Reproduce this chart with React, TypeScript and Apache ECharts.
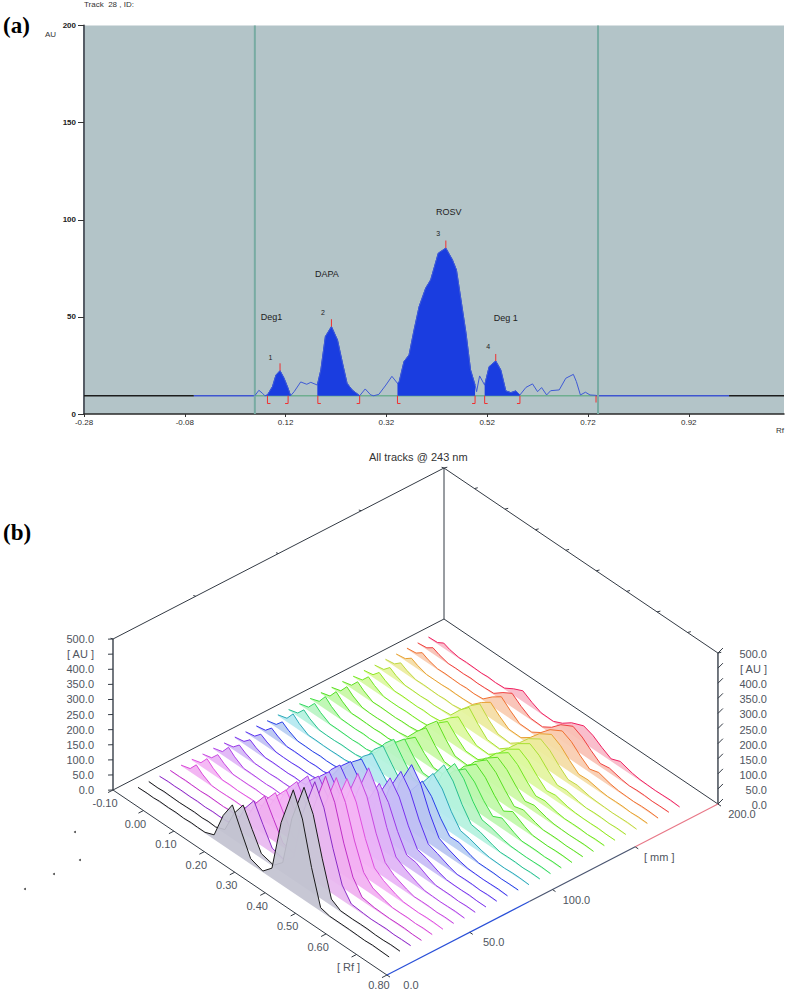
import React, { useEffect, useRef } from "react";
import * as echarts from "echarts";

/* ---------- panel (a): densitogram of track 28 ---------- */
const rfTicksA = [-0.28, -0.08, 0.12, 0.32, 0.52, 0.72, 0.92];
const BASE_AU = 9.4;
const profile: number[][] = [
  [0.059, 9.4], [0.067, 12.2], [0.074, 10.7], [0.079, 9.4], [0.084, 9.8], [0.094, 14.1], [0.101, 20.1],
  [0.109, 22.3], [0.117, 18.4], [0.125, 13.2], [0.13, 9.4], [0.137, 11.5], [0.15, 16.5], [0.162, 15.3],
  [0.17, 16.3], [0.183, 14.9], [0.19, 22.7], [0.199, 39.9], [0.211, 45.0], [0.223, 38.1], [0.233, 26.1],
  [0.242, 15.8], [0.252, 12.4], [0.267, 9.4], [0.278, 12.9], [0.289, 9.8], [0.295, 9.4], [0.305, 10.1],
  [0.319, 14.9], [0.331, 19.4], [0.342, 15.8], [0.345, 16.2], [0.355, 27.0], [0.365, 30.4], [0.375, 43.3],
  [0.385, 55.3], [0.398, 64.8], [0.408, 69.1], [0.423, 82.8], [0.438, 85.4], [0.451, 79.4], [0.459, 74.2],
  [0.468, 58.8], [0.478, 41.6], [0.487, 22.7], [0.496, 14.9], [0.499, 11.5], [0.505, 19.6], [0.515, 14.9],
  [0.524, 24.4], [0.537, 27.3], [0.547, 22.7], [0.557, 11.9], [0.567, 11.0], [0.577, 11.9], [0.585, 9.8],
  [0.597, 13.7], [0.61, 15.5], [0.62, 11.5], [0.628, 13.6], [0.638, 9.8], [0.646, 12.0], [0.663, 12.4],
  [0.676, 18.4], [0.691, 20.4], [0.697, 16.7], [0.705, 9.8], [0.715, 11.2], [0.724, 9.8], [0.736, 9.6],
];
const peakWindows = [[0.079, 0.13], [0.183, 0.267], [0.342, 0.496], [0.515, 0.585]];
const peakMarks = [[0.109, 22.3, 26.1], [0.211, 45.0, 48.8], [0.438, 85.4, 89.3], [0.537, 27.3, 30.9]];
const brackets = [[0.084, 1], [0.125, -1], [0.184, 1], [0.267, -1], [0.342, 1], [0.496, -1], [0.515, 1], [0.585, -1], [0.736, 0]];
const trackLimits = [0.059, 0.74];
const annotationsA: (string | number)[][] = [
  ["ROSV", 0.444, 104.2, 9], ["DAPA", 0.202, 72, 9], ["Deg1", 0.092, 49.8, 9], ["Deg 1", 0.557, 49.3, 9],
  ["1", 0.09, 29, 7], ["2", 0.194, 52, 7], ["3", 0.423, 93, 7], ["4", 0.522, 34.5, 7],
];
const baselineSegments: (number | string)[][] = [
  [-0.28, -0.062, "#1c1c1c"], [-0.062, 0.059, "#3f55d0"], [0.059, 0.736, "#6fae90"],
  [0.736, 1.0, "#3f55d0"], [1.0, 1.109, "#1c1c1c"],
];

/* ---------- panel (b): all tracks at 243 nm ---------- */
const rfGrid = [-0.07, -0.04, -0.02, 0.0, 0.03, 0.055, 0.08, 0.105, 0.125, 0.15, 0.18, 0.21, 0.24, 0.27, 0.3, 0.34, 0.37, 0.4, 0.44, 0.47, 0.5, 0.53, 0.56, 0.6, 0.625, 0.65, 0.675, 0.7, 0.725, 0.755];
const trackValues: number[][] = [
  [2, 3, 2, 4, 3, 4, 2, 4, 3, 3, 15, 100, 155, 85, 18, 4, 34, 205, 341, 265, 125, 12, 4, 4, 4, 3, 2, 4, 3, 2],
  [3, 2, 4, 3, 2, 3, 4, 2, 4, 2, 14, 88, 136, 75, 16, 5, 34, 200, 331, 262, 135, 22, 4, 3, 4, 4, 2, 2, 4, 3],
  [2, 4, 3, 4, 3, 4, 2, 4, 3, 4, 13, 86, 132, 73, 16, 4, 33, 199, 331, 265, 150, 50, 8, 4, 2, 3, 4, 2, 3, 3],
  [3, 3, 4, 3, 2, 4, 3, 2, 4, 2, 13, 84, 129, 71, 15, 5, 33, 199, 331, 265, 150, 58, 12, 5, 4, 3, 4, 4, 2, 2],
  [2, 11, 37, 20, 3, 2, 3, 4, 3, 4, 12, 79, 122, 67, 15, 4, 31, 185, 308, 246, 139, 55, 24, 10, 3, 3, 4, 2, 4, 3],
  [3, 12, 39, 21, 3, 4, 2, 3, 4, 3, 11, 73, 113, 62, 14, 5, 29, 172, 286, 229, 129, 52, 30, 12, 4, 3, 2, 4, 4, 2],
  [2, 10, 34, 19, 3, 3, 3, 4, 2, 4, 12, 79, 122, 67, 15, 4, 29, 171, 285, 228, 128, 51, 28, 11, 3, 4, 4, 2, 4, 3],
  [3, 12, 40, 22, 4, 4, 3, 2, 4, 2, 12, 79, 122, 67, 15, 5, 29, 171, 285, 228, 128, 51, 32, 13, 4, 3, 2, 3, 4, 2],
  [2, 9, 29, 16, 3, 3, 2, 4, 3, 3, 10, 67, 103, 57, 12, 4, 22, 129, 215, 172, 97, 39, 35, 14, 4, 4, 4, 2, 4, 3],
  [3, 9, 28, 15, 3, 4, 3, 2, 4, 2, 10, 64, 99, 54, 12, 5, 22, 129, 215, 172, 97, 39, 30, 12, 4, 3, 3, 4, 2, 2],
  [2, 8, 28, 16, 3, 2, 2, 4, 3, 4, 10, 67, 103, 57, 12, 4, 22, 131, 218, 174, 98, 39, 28, 11, 3, 4, 4, 2, 4, 3],
  [3, 9, 30, 17, 3, 4, 3, 2, 4, 2, 10, 62, 96, 53, 11, 5, 22, 133, 222, 178, 100, 40, 25, 10, 4, 3, 2, 3, 4, 2],
  [2, 10, 32, 18, 3, 3, 2, 4, 2, 3, 9, 56, 86, 47, 10, 4, 15, 89, 149, 119, 67, 27, 28, 11, 4, 4, 4, 2, 3, 3],
  [3, 12, 40, 22, 4, 4, 3, 3, 4, 4, 9, 56, 86, 47, 10, 5, 16, 94, 156, 125, 70, 28, 22, 9, 4, 3, 2, 4, 4, 2],
  [2, 11, 35, 19, 3, 2, 2, 4, 3, 3, 9, 60, 93, 51, 11, 4, 17, 100, 166, 133, 75, 30, 25, 10, 3, 4, 4, 2, 4, 3],
  [3, 12, 38, 21, 4, 4, 3, 2, 4, 2, 10, 62, 96, 53, 12, 5, 15, 91, 152, 122, 68, 27, 22, 9, 4, 3, 2, 3, 4, 2],
  [2, 13, 42, 23, 4, 3, 2, 4, 2, 4, 8, 47, 79, 40, 8, 6, 35, 81, 116, 93, 52, 20, 35, 14, 3, 4, 4, 2, 4, 3],
  [3, 12, 40, 22, 3, 4, 3, 2, 4, 2, 7, 40, 66, 33, 7, 6, 34, 79, 113, 90, 51, 19, 38, 15, 4, 3, 2, 4, 4, 2],
  [2, 11, 38, 21, 4, 2, 2, 4, 3, 3, 8, 47, 79, 40, 8, 5, 33, 76, 109, 87, 49, 16, 25, 10, 3, 4, 4, 2, 3, 3],
  [3, 11, 36, 20, 3, 4, 3, 2, 4, 4, 8, 50, 83, 42, 8, 5, 30, 69, 99, 79, 45, 15, 22, 9, 4, 3, 2, 3, 4, 2],
  [2, 10, 34, 19, 3, 2, 2, 4, 3, 3, 6, 38, 63, 32, 6, 5, 29, 67, 96, 77, 43, 14, 18, 7, 3, 4, 4, 2, 4, 3],
  [3, 9, 30, 17, 3, 4, 3, 2, 4, 2, 6, 36, 60, 30, 6, 4, 27, 62, 89, 71, 40, 13, 18, 7, 4, 3, 3, 4, 2, 2],
  [2, 8, 28, 15, 3, 3, 2, 4, 2, 4, 7, 44, 73, 37, 7, 4, 27, 62, 89, 71, 40, 13, 16, 6, 2, 4, 4, 2, 4, 3],
  [3, 8, 25, 14, 3, 4, 3, 2, 4, 2, 7, 40, 66, 33, 7, 4, 26, 60, 86, 69, 39, 13, 15, 6, 4, 3, 2, 3, 4, 2],
  [2, 7, 22, 12, 2, 2, 2, 4, 3, 3, 5, 32, 53, 27, 5, 4, 25, 58, 83, 66, 37, 12, 14, 6, 3, 4, 4, 2, 4, 3],
  [3, 7, 22, 12, 3, 4, 3, 2, 4, 2, 5, 32, 53, 27, 5, 4, 23, 53, 76, 61, 34, 11, 20, 8, 4, 3, 2, 4, 4, 2],
  [2, 6, 20, 11, 2, 3, 2, 4, 2, 3, 5, 28, 46, 23, 5, 3, 22, 51, 73, 58, 33, 11, 16, 6, 2, 4, 4, 2, 3, 3],
  [3, 5, 17, 9, 3, 4, 3, 2, 4, 2, 4, 22, 36, 18, 4, 3, 17, 39, 56, 45, 25, 8, 20, 8, 4, 3, 2, 3, 4, 2],
];
const trackColors = [
  "#1a1a1a", "#1a1a1a", "#8a2bc8", "#c030c8", "#d848d8", "#e050e0", "#c848e0", "#b040e8", "#9a38e8", "#7a30ee",
  "#5a30f0", "#3c30f0", "#2840e8", "#2aa8b8", "#28c090", "#30d860", "#40e040", "#50e020", "#58e020", "#60e020",
  "#70e820", "#90e820", "#a8e030", "#c0d840", "#e8a030", "#f07030", "#f04040", "#f02060",
];
const trackFills = [
  "#c2c2d0", "#c8c6d6", "#e8b8f0", "#f0b0f0", "#f2b0f2", "#f4b4f4", "#eab4f6", "#e0b4f6", "#d4b8f6", "#c8bcf6",
  "#c0c0f4", "#b8c4f2", "#b8cef2", "#b4e8f0", "#b4f2de", "#b8f4c4", "#bcf6b0", "#c0f8a8", "#c8f8a4", "#ccf8a4",
  "#d4f8a0", "#dcf8a0", "#e4f4a0", "#ecec9c", "#f4dca4", "#f8ccb0", "#f8c0b4", "#f8b8c8",
];
const trackStartMm = 9.6;
const trackStepMm = 6.5;
const auTicks = [0, 50, 100, 150, 200, 250, 300, 350, 400, 450, 500];
const rfTicksB = [-0.1, 0.0, 0.1, 0.2, 0.3, 0.4, 0.5, 0.6, 0.7, 0.8];
const mmTicks = [0, 50, 100, 150, 200];
const auLabel = (v: number) => (v === 450 ? "[ AU ]" : v.toFixed(1));
const rfLabel = (v: number) => (v === 0.7 ? "[ Rf ]" : v.toFixed(2));
const mmLabel = (v: number) => (v === 150 ? "[ mm ]" : v.toFixed(1));
const frontEdgeStops = [0, 86, 150, 200];
const frontEdgeColors = ["#2a50d8", "#4a5570", "#e87888"];
const specks = [[75, 832], [80, 860], [54, 874], [25, 889]];

const RF0 = -0.1;
const RF1 = 0.8;
const MM1 = 200;
const AU1 = 500;
function project(rf: number, mm: number, au: number): number[] {
  return [113 + (rf - RF0) * 304.4 + mm * 1.655, 790 + (rf - RF0) * 205.6 - mm * 0.855 - au * 0.302];
}

type Edge = { a: number[]; b: number[]; color: string; w: number };
const edges: Edge[] = [];
const addEdge = (a: number[], b: number[], color = "#333a44", w = 1) => edges.push({ a, b, color, w });
addEdge([RF0, 0, 0], [RF0, 0, AU1], "#444b55", 1.5);
addEdge([RF1, MM1, 0], [RF1, MM1, AU1], "#444b55", 1.5);
addEdge([RF0, MM1, 0], [RF0, MM1, AU1]);
addEdge([RF0, 0, AU1], [RF0, MM1, AU1]);
addEdge([RF0, MM1, AU1], [RF1, MM1, AU1]);
addEdge([RF0, 0, 0], [RF0, MM1, 0]);
addEdge([RF0, MM1, 0], [RF1, MM1, 0]);
addEdge([RF0, 0, 0], [RF1, 0, 0]);
frontEdgeColors.forEach((c, i) => addEdge([RF1, frontEdgeStops[i], 0], [RF1, frontEdgeStops[i + 1], 0], c, 1.2));
auTicks.forEach((v) => {
  addEdge([RF0, 0, v], [RF0, -3, v + 8]);
  addEdge([RF1, MM1, v], [RF1, MM1 + 3, v + 8]);
});
rfTicksB.forEach((v) => {
  addEdge([v, 0, 0], [v, -3, 0]);
  addEdge([v, MM1, AU1], [v, MM1 + 2, AU1 - 3]);
});
mmTicks.forEach((v) => {
  addEdge([RF1, v, 0], [RF1 + 0.01, v, 0]);
  addEdge([RF0, v, AU1], [RF0 - 0.008, v, AU1 - 3]);
});

type Lab = { t: string; p: number[]; dx: number; dy: number; align: string };
const labelsB: Lab[] = [
  ...auTicks.map((v) => ({ t: auLabel(v), p: [RF0, 0, v], dx: -19, dy: 0, align: "right" })),
  ...auTicks.map((v) => ({ t: auLabel(v), p: [RF1, MM1, v], dx: 49, dy: 1, align: "right" })),
  ...rfTicksB.map((v) => ({ t: rfLabel(v), p: [v, 0, 0], dx: -8, dy: v === RF1 ? 10 : 13, align: "center" })),
  ...mmTicks.map((v) => ({ t: mmLabel(v), p: [RF1, v, 0], dx: 24, dy: 10, align: "center" })),
];

const LATIN = "'Liberation Sans', Arial, sans-serif";

export default function App() {
  const ref = useRef<HTMLDivElement>(null);
  useEffect(() => {
    const chart = echarts.init(ref.current!, undefined, { renderer: "svg" });
    const X = { xAxisIndex: 0, yAxisIndex: 0 };
    const S = { xAxisIndex: 1, yAxisIndex: 1 };
    const order = trackValues.map((_, i) => [trackValues.length - 1 - i, 0]);
    chart.setOption({
      animation: false,
      backgroundColor: "#ffffff",
      grid: [
        { left: 84, top: 25.5, width: 700, height: 388.5, show: true, backgroundColor: "#b3c4c8", borderWidth: 0 },
        { left: 0, top: 0, width: 788, height: 992, show: false },
      ],
      xAxis: [
        {
          type: "value", gridIndex: 0, min: -0.28, max: 1.109, splitLine: { show: false },
          axisLine: { show: true, onZero: false, lineStyle: { color: "#2a2a2a", width: 1.5 } },
          axisTick: { show: true, customValues: rfTicksA, length: 3, lineStyle: { color: "#333" } },
          axisLabel: {
            customValues: rfTicksA, formatter: (v: number) => v.toFixed(2), fontSize: 8, color: "#2c2c2c",
            fontFamily: LATIN, margin: 4,
          },
        },
        { type: "value", gridIndex: 1, min: 0, max: 788, show: false },
      ],
      yAxis: [
        {
          type: "value", gridIndex: 0, min: 0, max: 200, interval: 50, splitLine: { show: false },
          axisLine: { show: true, onZero: false, lineStyle: { color: "#565d66", width: 2 } },
          axisTick: { show: true, length: 6, lineStyle: { color: "#333" } },
          axisLabel: { fontSize: 8, color: "#222", fontFamily: LATIN, fontWeight: "bold", margin: 8 },
        },
        { type: "value", gridIndex: 1, min: 0, max: 992, inverse: true, show: false },
      ],
      graphic: [
        { type: "text", x: 3, y: 14, style: { text: "(a)", font: "bold 23px 'Liberation Serif', serif", fill: "#000" } },
        { type: "text", x: 3, y: 521, style: { text: "(b)", font: "bold 23px 'Liberation Serif', serif", fill: "#000" } },
        { type: "text", x: 84, y: 0, style: { text: "Track  28 , ID:", font: `8px ${LATIN}`, fill: "#333" } },
        { type: "text", x: 45, y: 30, style: { text: "AU", font: `8px ${LATIN}`, fill: "#333" } },
        { type: "text", x: 776, y: 426, style: { text: "Rf", font: `8px ${LATIN}`, fill: "#333" } },
        { type: "text", x: 369, y: 451, style: { text: "All tracks @ 243 nm", font: `11px ${LATIN}`, fill: "#333" } },
      ],
      series: [
        ...baselineSegments.map((s) => ({
          type: "line", ...X, symbol: "none", silent: true, z: 3,
          data: [[s[0], BASE_AU], [s[1], BASE_AU]],
          lineStyle: { color: s[2], width: 1.5 },
        })),
        ...trackLimits.map((rf) => ({
          type: "line", ...X, symbol: "none", silent: true, z: 3,
          data: [[rf, 0], [rf, 200]],
          lineStyle: { color: "#78aba3", width: 2 },
        })),
        ...peakWindows.map((w) => ({
          type: "line", ...X, symbol: "none", silent: true, z: 4,
          data: profile.filter((p) => p[0] >= w[0] && p[0] <= w[1]),
          lineStyle: { color: "#1a3de0", width: 1 },
          areaStyle: { color: "#1a3de0", opacity: 1, origin: BASE_AU },
        })),
        {
          type: "line", ...X, symbol: "none", silent: true, z: 5, data: profile,
          lineStyle: { color: "#3f5ad6", width: 1 },
        },
        {
          type: "custom", ...X, silent: true, z: 6,
          data: peakMarks,
          renderItem: (_: any, api: any) => {
            const a = api.coord([api.value(0), api.value(1)]);
            const b = api.coord([api.value(0), api.value(2)]);
            return { type: "line", shape: { x1: a[0], y1: a[1], x2: b[0], y2: b[1] }, style: { stroke: "#f03030", lineWidth: 1 } };
          },
        },
        {
          type: "custom", ...X, silent: true, z: 6,
          data: brackets,
          renderItem: (_: any, api: any) => {
            const a = api.coord([api.value(0), BASE_AU]);
            const dir = api.value(1);
            const b = api.coord([api.value(0), dir === 0 ? BASE_AU - 3.5 : BASE_AU - 4]);
            const pts = dir === 0 ? [a, b] : [a, b, [b[0] + dir * 3, b[1]]];
            return { type: "polyline", shape: { points: pts }, style: { stroke: "#f03030", fill: "none", lineWidth: 1 } };
          },
        },
        {
          type: "custom", ...X, silent: true, z: 7,
          data: annotationsA.map((a, i) => [a[1], a[2], i]),
          renderItem: (_: any, api: any) => {
            const a = annotationsA[api.value(2)];
            const c = api.coord([api.value(0), api.value(1)]);
            return {
              type: "text", x: c[0], y: c[1],
              style: { text: a[0], font: `${a[3]}px ${LATIN}`, fill: "#222", textAlign: "center", textVerticalAlign: "middle" },
            };
          },
        },
        {
          type: "custom", ...S, silent: true, z: 2,
          data: edges.map((_, i) => [i, 0]),
          renderItem: (_: any, api: any) => {
            const e = edges[api.value(0)];
            const a = api.coord(project(e.a[0], e.a[1], e.a[2]));
            const b = api.coord(project(e.b[0], e.b[1], e.b[2]));
            return { type: "line", shape: { x1: a[0], y1: a[1], x2: b[0], y2: b[1] }, style: { stroke: e.color, lineWidth: e.w } };
          },
        },
        {
          type: "custom", ...S, silent: true, z: 3,
          data: order,
          renderItem: (_: any, api: any) => {
            const k = api.value(0);
            const mm = trackStartMm + k * trackStepMm;
            const pts = trackValues[k].map((v, i) => api.coord(project(rfGrid[i], mm, v)));
            const b0 = api.coord(project(rfGrid[0], mm, 0));
            const b1 = api.coord(project(rfGrid[rfGrid.length - 1], mm, 0));
            return {
              type: "group",
              children: [
                { type: "polygon", shape: { points: [...pts, b1, b0] }, style: { fill: trackFills[k], stroke: "none", opacity: 0.92 } },
                { type: "polyline", shape: { points: pts }, style: { stroke: trackColors[k], fill: "none", lineWidth: 1 } },
              ],
            };
          },
        },
        {
          type: "custom", ...S, silent: true, z: 4,
          data: labelsB.map((_, i) => [i, 0]),
          renderItem: (_: any, api: any) => {
            const l = labelsB[api.value(0)];
            const c = api.coord(project(l.p[0], l.p[1], l.p[2]));
            return {
              type: "text", x: c[0] + l.dx, y: c[1] + l.dy,
              style: { text: l.t, font: `11px ${LATIN}`, fill: "#4f5560", textAlign: l.align, textVerticalAlign: "middle" },
            };
          },
        },
        {
          type: "scatter", ...S, silent: true, symbolSize: 2, data: specks,
          itemStyle: { color: "#222" },
        },
      ],
    });
    return () => chart.dispose();
  }, []);
  return <div ref={ref} style={{ position: "absolute", left: 0, top: 0, width: 788, height: 992 }} />;
}
